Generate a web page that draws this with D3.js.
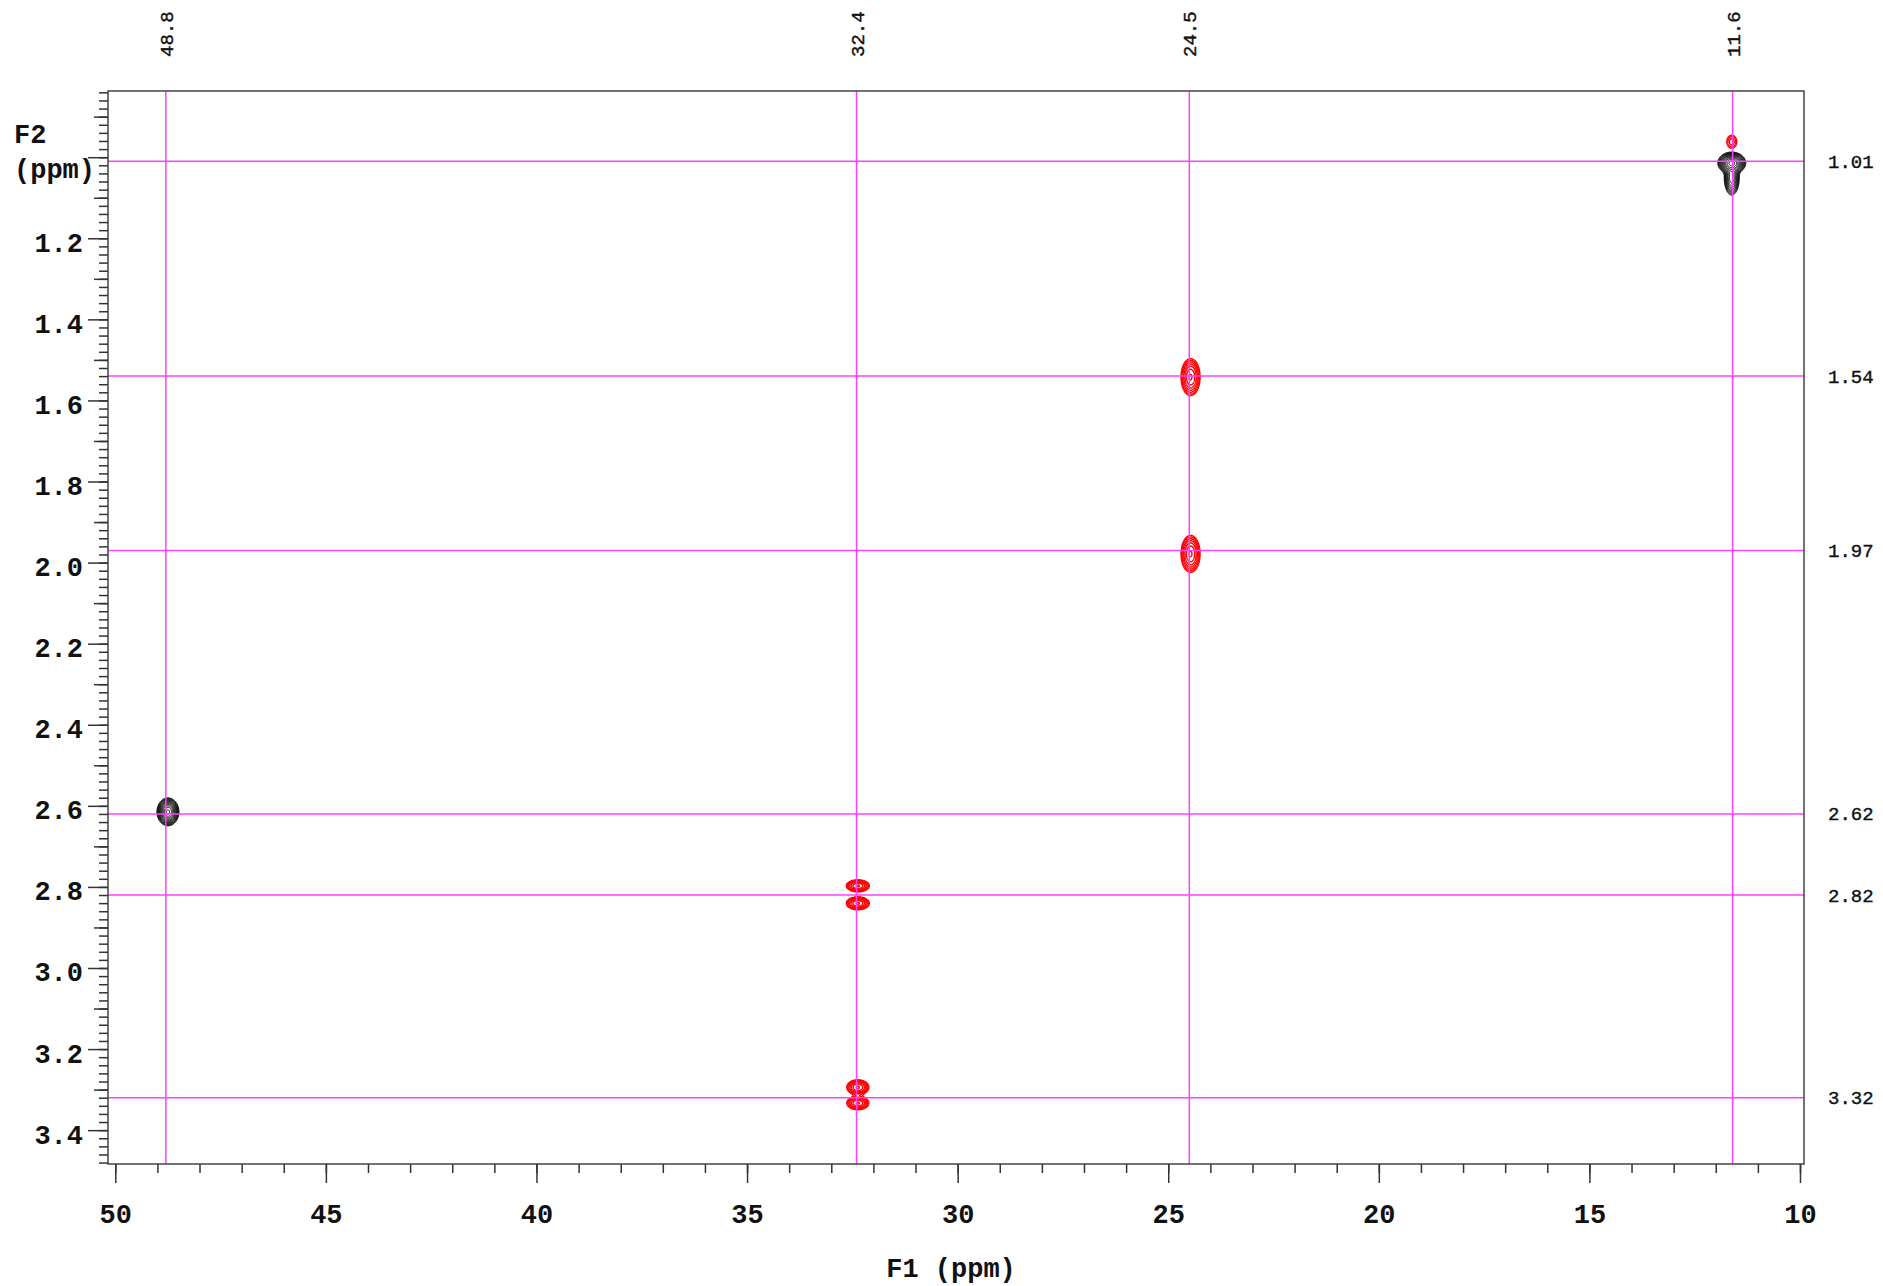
<!DOCTYPE html>
<html>
  <head>
    <meta charset="utf-8">
    <title>HSQC spectrum</title>
    <script src="https://cdn.jsdelivr.net/npm/d3@7"></script>
    <style>
      body { margin: 0; background: #fff; }
      svg { display: block; font-family: "Liberation Mono", "Courier New", monospace; }
    </style>
  </head>

  <body>
    <svg id="chart" width="1883" height="1286"></svg>

    <script>
      // axes
      f1Labels = [50, 45, 40, 35, 30, 25, 20, 15, 10];
      f1Minor = d3.range(10, 51);
      f2Labels = [1.0, 1.2, 1.4, 1.6, 1.8, 2.0, 2.2, 2.4, 2.6, 2.8, 3.0, 3.2, 3.4];

      // cursor lines
      f1Marks = [48.8, 32.4, 24.5, 11.6];
      f2Marks = [1.01, 1.54, 1.97, 2.62, 2.82, 3.32];

      // cross peaks (gaussian components, amp < 0 drawn red)
      peakSite = ["a", "a", "a2", "b", "c", "d", "e", "e", "f", "f"];
      peakF1 = [11.62, 11.62, 11.62, 24.47, 24.47, 48.75, 32.37, 32.37, 32.37, 32.37];
      peakF2 = [1.0143, 1.0513, 0.962, 1.5425, 1.9785, 2.6148, 2.7973, 2.8404, 3.2942, 3.3332];
      peakW1 = [0.131, 0.083, 0.1, 0.126, 0.126, 0.103, 0.152, 0.152, 0.146, 0.146];
      peakW2 = [0.0106, 0.0197, 0.0136, 0.0254, 0.0254, 0.0136, 0.0083, 0.0089, 0.0103, 0.0092];
      peakAmp = [1, 0.4, -0.08, -0.2, -0.2, 1, -0.2, -0.2, -0.2, -0.2];

      // contour levels
      levels = [0.04, 0.052, 0.068, 0.088, 0.114, 0.149, 0.193, 0.251, 0.326, 0.424, 0.551, 0.717, 0.932];

      svg = d3.select("#chart");

      margin = { left: 108, top: 91, right: 1804, bottom: 1164 };

      x = d3.scaleLinear()
        .domain([50.173, 9.905])
        .range([margin.left, margin.right]);

      y = d3.scaleLinear()
        .domain([0.8367, 3.4835])
        .range([margin.top, margin.bottom]);

      // contours
      peaks = peakSite.map(function(s, i) {
        return { site: s, f1: peakF1[i], f2: peakF2[i], w1: peakW1[i], w2: peakW2[i], amp: peakAmp[i] };
      });

      contourLayer = svg.append("g");
      step = 0.5;

      d3.groups(peaks, function(d) { return d.site; }).forEach(function(group) {
        comps = group[1].map(function(d) {
          return {
            cx: x(d.f1), cy: y(d.f2),
            sx: x(d.f1 - d.w1) - x(d.f1),
            sy: y(d.f2 + d.w2) - y(d.f2),
            a: d.amp
          };
        });
        sign = Math.sign(comps[0].a);
        x0 = Math.floor(d3.min(comps, function(p) { return p.cx - 4 * p.sx; }));
        x1 = Math.ceil(d3.max(comps, function(p) { return p.cx + 4 * p.sx; }));
        y0 = Math.floor(d3.min(comps, function(p) { return p.cy - 4 * p.sy; }));
        y1 = Math.ceil(d3.max(comps, function(p) { return p.cy + 4 * p.sy; }));
        n = Math.ceil((x1 - x0) / step);
        m = Math.ceil((y1 - y0) / step);

        values = new Float64Array(n * m);
        for (j = 0; j < m; j++) {
          for (i = 0; i < n; i++) {
            px = x0 + (i + 0.5) * step;
            py = y0 + (j + 0.5) * step;
            v = 0;
            comps.forEach(function(p) {
              v += p.a * Math.exp(-((px - p.cx) ** 2 / (2 * p.sx * p.sx) + (py - p.cy) ** 2 / (2 * p.sy * p.sy)));
            });
            values[j * n + i] = v * sign;
          }
        }

        contours = d3.contours()
          .size([n, m])
          .thresholds(levels)
          (values);

        path = d3.geoPath(d3.geoIdentity().scale(step).translate([x0, y0]));

        contourLayer.append("g")
          .selectAll("path")
            .data(contours.filter(function(c) { return c.coordinates.length; }))
          .enter().append("path")
            .attr("d", path)
            .attr("fill", "none")
            .attr("stroke", sign > 0 ? "#000" : "#ff0000")
            .attr("stroke-width", sign > 0 ? 1 : 1.4);
      });

      // cursor lines
      svg.append("g")
        .selectAll("line")
          .data(f1Marks)
        .enter().append("line")
          .attr("x1", function(d) { return x(d); })
          .attr("x2", function(d) { return x(d); })
          .attr("y1", margin.top)
          .attr("y2", margin.bottom)
          .attr("stroke", "#ff40ff")
          .attr("stroke-width", 1.5);

      svg.append("g")
        .selectAll("line")
          .data(f2Marks)
        .enter().append("line")
          .attr("x1", margin.left)
          .attr("x2", margin.right)
          .attr("y1", function(d) { return y(d); })
          .attr("y2", function(d) { return y(d); })
          .attr("stroke", "#ff40ff")
          .attr("stroke-width", 1.5);

      // cursor labels
      svg.append("g")
        .selectAll("text")
          .data(f1Marks)
        .enter().append("text")
          .attr("transform", function(d) { return "translate(" + (x(d) + 7) + ",57) rotate(-90)"; })
          .attr("font-size", 19)
          .attr("fill", "#111")
          .attr("stroke", "#111")
          .attr("stroke-width", 0.4)
          .text(function(d) { return d.toFixed(1); });

      svg.append("g")
        .selectAll("text")
          .data(f2Marks)
        .enter().append("text")
          .attr("x", 1828)
          .attr("y", function(d) { return y(d) + 6.5; })
          .attr("font-size", 19)
          .attr("fill", "#111")
          .attr("stroke", "#111")
          .attr("stroke-width", 0.4)
          .text(function(d) { return d.toFixed(2); });

      // frame
      svg.append("rect")
        .attr("x", margin.left)
        .attr("y", margin.top)
        .attr("width", margin.right - margin.left)
        .attr("height", margin.bottom - margin.top)
        .attr("fill", "none")
        .attr("stroke", "#444")
        .attr("stroke-width", 1.5);

      // bottom axis
      xMinor = svg.append("g")
        .attr("transform", "translate(0," + margin.bottom + ")")
        .call(d3.axisBottom(x).tickValues(f1Minor).tickSize(9).tickSizeOuter(0).tickFormat(""));

      xMajor = svg.append("g")
        .attr("transform", "translate(0," + margin.bottom + ")")
        .call(d3.axisBottom(x).tickValues(f1Labels).tickSize(19).tickSizeOuter(0).tickPadding(21).tickFormat(d3.format("d")));

      // left axis
      yMinor = svg.append("g")
        .attr("transform", "translate(" + margin.left + ",0)")
        .call(d3.axisLeft(y).tickValues(d3.range(42, 175).map(function(k) { return k / 50; })).tickSize(9).tickSizeOuter(0).tickFormat(""));

      yMid = svg.append("g")
        .attr("transform", "translate(" + margin.left + ",0)")
        .call(d3.axisLeft(y).tickValues(d3.range(9, 35, 2).map(function(k) { return k / 10; })).tickSize(14).tickSizeOuter(0).tickFormat(""));

      yMajor = svg.append("g")
        .attr("transform", "translate(" + margin.left + ",0)")
        .call(d3.axisLeft(y).tickValues(f2Labels).tickSize(20).tickSizeOuter(0).tickPadding(5)
          .tickFormat(function(d) { return d === 1 ? "" : d3.format(".1f")(d); }));

      svg.selectAll(".domain").remove();
      svg.selectAll(".tick line")
        .attr("stroke", "#333")
        .attr("stroke-width", 1.5);
      svg.selectAll(".tick text")
        .attr("font-family", "Liberation Mono, Courier New, monospace")
        .attr("font-size", 27)
        .attr("font-weight", "bold")
        .attr("fill", "#111");
      yMajor.selectAll(".tick text").attr("dy", "0.48em");

      // titles
      svg.append("text")
        .attr("x", 14)
        .attr("y", 143)
        .attr("font-size", 27)
        .attr("font-weight", "bold")
        .attr("fill", "#111")
        .text("F2");

      svg.append("text")
        .attr("x", 14)
        .attr("y", 178)
        .attr("font-size", 27)
        .attr("font-weight", "bold")
        .attr("fill", "#111")
        .text("(ppm)");

      svg.append("text")
        .attr("x", 951)
        .attr("y", 1277)
        .attr("text-anchor", "middle")
        .attr("font-size", 27)
        .attr("font-weight", "bold")
        .attr("fill", "#111")
        .text("F1 (ppm)");
    </script>
  </body>
</html>
